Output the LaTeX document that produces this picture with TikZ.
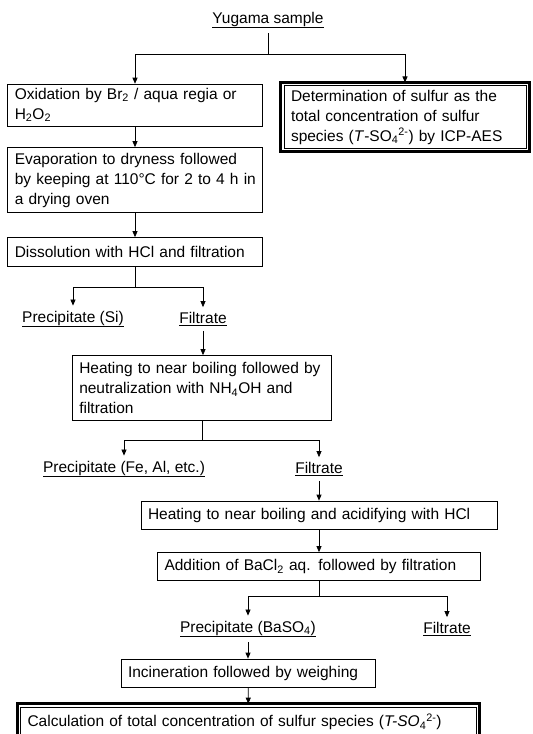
\documentclass[tikz,border=0pt]{standalone}
\usepackage{fontspec}
\setmainfont{Liberation Sans}
\usetikzlibrary{arrows.meta}

\tikzset{
  stepbox/.style={draw, line width=0.7pt, align=left, inner xsep=7pt, inner ysep=4pt,
    font=\fontsize{15.5}{20}\selectfont},
  heavybox/.style={stepbox, outer sep=3.3pt},
  frame/.style={draw, line width=2.8pt},
  lbl/.style={inner xsep=2pt, inner ysep=5pt, font=\fontsize{15.5}{18}\selectfont},
  flow/.style={-{Triangle[length=6pt,width=5pt]}, line width=0.7pt},
  link/.style={line width=0.7pt}
}

\begin{document}
\begin{tikzpicture}[x=1pt,y=-1pt]
\useasboundingbox (0,0) rectangle (533,734);

    \node[lbl] (yug) at (268, 20) {\underline{Yugama sample}};
    \node[stepbox, text width=240.5pt, minimum height=36pt] (oxi) at (135, 105) {Oxidation by Br\textsubscript{2} / aqua regia or\\H\textsubscript{2}O\textsubscript{2}};
    \node[heavybox, text width=228pt, minimum height=58pt] (det) at (405, 117) {Determination of sulfur as the\\total concentration of sulfur\\species (\textit{T}-SO\textsubscript{4}\textsuperscript{2-}) by ICP-AES};
    \node[stepbox, text width=240.5pt, minimum height=65pt] (evap) at (135, 180) {Evaporation to dryness followed\\\mbox{by keeping at 110°C for 2 to 4 h in}\\a drying oven};
    \node[stepbox, text width=240.5pt, minimum height=29pt] (diss) at (135, 252) {Dissolution with HCl and filtration};
    \node[lbl] (psi) at (73, 319) {\underline{Precipitate (Si)}};
    \node[lbl] (fil1) at (203, 319) {\underline{Filtrate}};
    \node[stepbox, text width=245.5pt, minimum height=65pt] (heat1) at (202, 388) {Heating to near boiling followed by\\neutralization with NH\textsubscript{4}OH and\\filtration};
    \node[lbl] (pfe) at (124, 469) {\underline{Precipitate (Fe, Al, etc.)}};
    \node[lbl] (fil2) at (319, 469) {\underline{Filtrate}};
    \node[stepbox, text width=342pt, minimum height=28pt] (heat2) at (319, 515) {Heating to near boiling and acidifying with HCl};
    \node[stepbox, text width=309pt, minimum height=28pt] (bacl) at (319, 566.5) {Addition of BaCl\textsubscript{2} aq. followed by filtration};
    \node[lbl] (pba) at (248, 629) {\underline{Precipitate (BaSO\textsubscript{4})}};
    \node[lbl] (fil3) at (447, 629) {\underline{Filtrate}};
    \node[stepbox, text width=240pt, minimum height=28pt] (inc) at (248, 673) {Incineration followed by weighing};
    \node[heavybox, text width=442pt, minimum height=30pt] (calc) at (248.5, 722) {Calculation of total concentration of sulfur species (\textit{T-SO}\textsubscript{4}\textsuperscript{2-})};

    % heavy frames
    \draw[frame] (det.north west) rectangle (det.south east);
    \draw[frame] (calc.north west) rectangle (calc.south east);

    % branch points
    \coordinate (j0) at (268, 54);
    \coordinate (j1) at (135, 287);
    \coordinate (j2) at (202, 440);
    \coordinate (j3) at (319, 596);

    \draw[link] (yug) -- (j0);
    \draw[flow] (j0) -| (oxi.north);
    \draw[flow] (j0) -| (det.north);
    \draw[flow] (oxi) -- (evap);
    \draw[flow] (evap) -- (diss);
    \draw[link] (diss) -- (j1);
    \draw[flow] (j1) -| (psi.north);
    \draw[flow] (j1) -| (fil1.north);
    \draw[flow] (fil1) -- (fil1 |- heat1.north);
    \draw[link] (heat1) -- (j2);
    \draw[flow] (j2) -| (pfe.north);
    \draw[flow] (j2) -| (fil2.north);
    \draw[flow] (fil2) -- (heat2);
    \draw[flow] (heat2) -- (bacl);
    \draw[link] (bacl) -- (j3);
    \draw[flow] (j3) -| (pba.north);
    \draw[flow] (j3) -| (fil3.north);
    \draw[flow] (pba) -- (inc);
    \draw[flow] (inc) -- (calc);

\end{tikzpicture}
\end{document}
